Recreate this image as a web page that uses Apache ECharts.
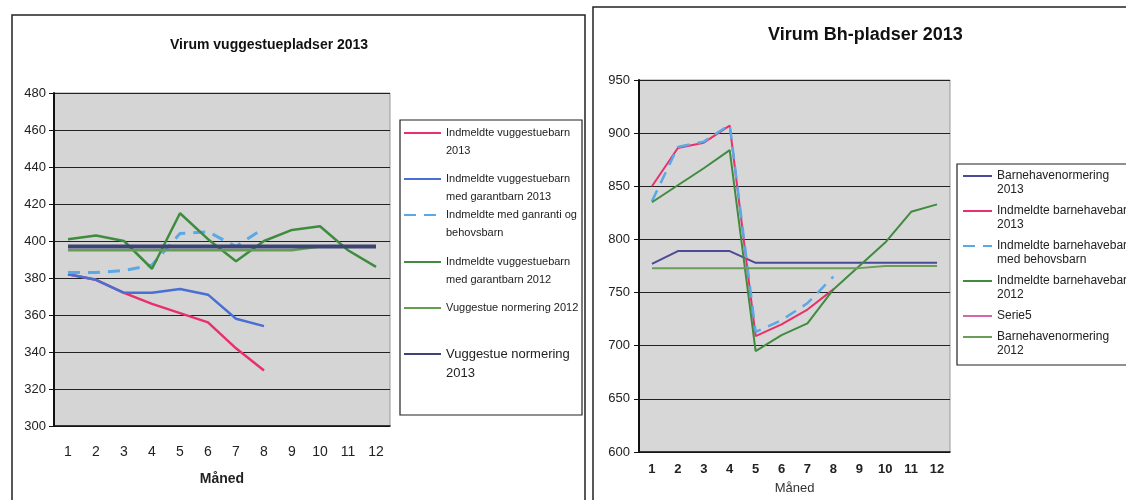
<!DOCTYPE html>
<html lang="da">
<head>
<meta charset="utf-8">
<script src="https://cdn.jsdelivr.net/npm/echarts@6/dist/echarts.min.js"></script>
<style>
  body { margin: 0; background: #fff; }
  #main { width: 1126px; height: 500px; }
</style>
</head>
<body>
<div id="main"></div>
<script type="text/javascript">
// maaneder (faelles x-akse)
var maaneder = ['1', '2', '3', '4', '5', '6', '7', '8', '9', '10', '11', '12'];

// venstre graf: Virum vuggestuepladser 2013
var vugge2013 = [382, 379, 372, 366, 361, 356, 342, 330];
var vuggeGaranti2013 = [382, 379, 372, 372, 374, 371, 358, 354];
var vuggeBehov = [383, 383, 384, 387, 404, 405, 397, 407];
var vuggeGaranti2012 = [401, 403, 400, 385, 415, 401, 389, 400, 406, 408, 395, 386];
var vuggeNorm2012 = [395, 395, 395, 395, 395, 395, 395, 395, 395, 397, 397, 397];
var vuggeNorm2013 = [397, 397, 397, 397, 397, 397, 397, 397, 397, 397, 397, 397];
var vuggeAkse = [300, 480, 20];   // min, max, interval

// hoejre graf: Virum Bh-pladser 2013
var bhNorm2013 = [777, 789, 789, 789, 778, 778, 778, 778, 778, 778, 778, 778];
var bh2013 = [850, 886, 891, 907, 709, 720, 734, 753];
var bhBehov = [836, 887, 892, 908, 713, 724, 740, 765];
var bh2012 = [835, 851, 867, 884, 695, 710, 721, 753, 775, 797, 826, 833];
var serie5 = [];
var bhNorm2012 = [773, 773, 773, 773, 773, 773, 773, 773, 773, 775, 775, 775];
var bhAkse = [600, 950, 50];

// navne og legend-tekster
var navneV = ['Indmeldte vuggestuebarn 2013', 'Indmeldte vuggestuebarn med garantbarn 2013',
  'Indmeldte med ganranti og behovsbarn', 'Indmeldte vuggestuebarn med garantbarn 2012',
  'Vuggestue normering 2012', 'Vuggestue normering 2013'];
var tekstV = ['Indmeldte vuggestuebarn\n2013', 'Indmeldte vuggestuebarn\nmed garantbarn 2013',
  'Indmeldte med ganranti og\nbehovsbarn', 'Indmeldte vuggestuebarn\nmed garantbarn 2012',
  'Vuggestue normering 2012', 'Vuggestue normering\n2013'];
var navneH = ['Barnehavenormering 2013', 'Indmeldte barnehavebarn 2013',
  'Indmeldte barnehavebarn med behovsbarn', 'Indmeldte barnehavebarn 2012',
  'Serie5', 'Barnehavenormering 2012'];
var tekstH = ['Barnehavenormering\n2013', 'Indmeldte barnehavebarn\n2013',
  'Indmeldte barnehavebarn\nmed behovsbarn', 'Indmeldte barnehavebarn\n2012',
  'Serie5', 'Barnehavenormering\n2012'];

var font = 'Liberation Sans, Arial, sans-serif';
var myChart = echarts.init(document.getElementById('main'));

// en legend pr. linje, saa ikonet staar ud for foerste tekstlinje
function legendItem(navn, tekst, left, y, fs, lh, iw) {
  var flere = tekst.indexOf('\n') >= 0;
  var vis = flere ? '\n' + tekst : tekst;
  return {
    data: [navn],
    left: left,
    top: flere ? y - 1.5 * lh : y - lh / 2,
    padding: 0,
    itemWidth: iw,
    itemHeight: 14,
    selectedMode: false,
    itemStyle: { opacity: 0 },   // kun linjen, ingen cirkel
    formatter: function () { return vis; },
    textStyle: { fontFamily: font, fontSize: fs, lineHeight: lh, color: '#222' }
  };
}

var legendV = [133, 179, 215, 262, 308, 354];
var legendH = [176, 211, 246, 281, 316, 337];
var legends = [];
for (var i = 0; i < 6; i++) {
  legends.push(legendItem(navneV[i], tekstV[i], 403, legendV[i], i == 5 ? 13 : 11, i == 5 ? 19 : 18, 37));
  legends.push(legendItem(navneH[i], tekstH[i], 962, legendH[i], 12, 14, 29));
}

function linje(navn, data, farve, bredde, ax, stiplet) {
  return {
    name: navn, type: 'line', data: data,
    xAxisIndex: ax, yAxisIndex: ax,
    symbol: 'none', animation: false,
    color: farve,
    lineStyle: { color: farve, width: bredde, type: stiplet ? [12, 8] : 'solid' }
  };
}

option = {
  animation: false,
  title: [
    { text: 'Virum vuggestuepladser 2013', left: 170, top: 38, padding: 0,
      textStyle: { fontFamily: font, fontSize: 14, fontWeight: 'bold', color: '#111' } },
    { text: 'Virum Bh-pladser 2013', left: 768, top: 26, padding: 0,
      textStyle: { fontFamily: font, fontSize: 18, fontWeight: 'bold', color: '#111' } }
  ],
  legend: legends,
  graphic: [
    { type: 'rect', shape: { x: 12, y: 15, width: 573, height: 500 }, style: { fill: 'none', stroke: '#222', lineWidth: 1.5 }, z: -1 },
    { type: 'rect', shape: { x: 400, y: 120, width: 182, height: 295 }, style: { fill: 'none', stroke: '#222', lineWidth: 1.2 } },
    { type: 'rect', shape: { x: 593, y: 7, width: 600, height: 510 }, style: { fill: 'none', stroke: '#222', lineWidth: 1.5 }, z: -1 },
    { type: 'rect', shape: { x: 957, y: 164, width: 200, height: 201 }, style: { fill: 'none', stroke: '#222', lineWidth: 1.2 } }
  ],
  grid: [
    { left: 54, top: 93, width: 336, height: 333, show: true, backgroundColor: '#d5d5d5', borderColor: '#999', borderWidth: 1 },
    { left: 639, top: 80, width: 311, height: 372, show: true, backgroundColor: '#d7d7d7', borderColor: '#999', borderWidth: 1 }
  ],
  xAxis: [
    { type: 'category', gridIndex: 0, data: maaneder, boundaryGap: true,
      name: 'Måned', nameLocation: 'middle', nameGap: 46,
      nameTextStyle: { fontFamily: font, fontSize: 14, fontWeight: 'bold', color: '#222' },
      axisLine: { lineStyle: { color: '#111', width: 1.5 } },
      axisTick: { length: 5, inside: false, lineStyle: { color: '#111' } },
      axisLabel: { margin: 19, fontFamily: font, fontSize: 14, color: '#222' } },
    { type: 'category', gridIndex: 1, data: maaneder, boundaryGap: true,
      name: 'Måned', nameLocation: 'middle', nameGap: 30,
      nameTextStyle: { fontFamily: font, fontSize: 13, color: '#333' },
      axisLine: { lineStyle: { color: '#111', width: 1.5 } },
      axisTick: { length: 5, lineStyle: { color: '#111' } },
      axisLabel: { margin: 11, fontFamily: font, fontSize: 13, fontWeight: 'bold', color: '#222' } }
  ],
  yAxis: [
    { type: 'value', gridIndex: 0, min: vuggeAkse[0], max: vuggeAkse[1], interval: vuggeAkse[2],
      axisLine: { show: true, lineStyle: { color: '#111', width: 2 } },
      axisTick: { show: true, length: 5, lineStyle: { color: '#111' } },
      splitLine: { lineStyle: { color: '#222', width: 1 } },
      axisLabel: { margin: 8, fontFamily: font, fontSize: 13, color: '#222' } },
    { type: 'value', gridIndex: 1, min: bhAkse[0], max: bhAkse[1], interval: bhAkse[2],
      axisLine: { show: true, lineStyle: { color: '#111', width: 2 } },
      axisTick: { show: true, length: 5, lineStyle: { color: '#111' } },
      splitLine: { lineStyle: { color: '#222', width: 1 } },
      axisLabel: { margin: 9, fontFamily: font, fontSize: 13, color: '#222' } }
  ],
  series: [
    linje(navneV[0], vugge2013, '#e8306c', 2.5, 0),
    linje(navneV[1], vuggeGaranti2013, '#4a6fd2', 2.5, 0),
    linje(navneV[2], vuggeBehov, '#5aa9e6', 3, 0, true),
    linje(navneV[3], vuggeGaranti2012, '#3f8c3f', 2.5, 0),
    linje(navneV[4], vuggeNorm2012, '#62a050', 2.5, 0),
    linje(navneV[5], vuggeNorm2013, '#3d4472', 4, 0),
    linje(navneH[0], bhNorm2013, '#4a4a98', 2, 1),
    linje(navneH[1], bh2013, '#e8306c', 2, 1),
    linje(navneH[2], bhBehov, '#5aa9e6', 2.5, 1, true),
    linje(navneH[3], bh2012, '#3f8c3f', 2, 1),
    linje(navneH[4], serie5, '#d466aa', 2, 1),
    linje(navneH[5], bhNorm2012, '#6a9e58', 2, 1)
  ]
};

myChart.setOption(option);
</script>
</body>
</html>
